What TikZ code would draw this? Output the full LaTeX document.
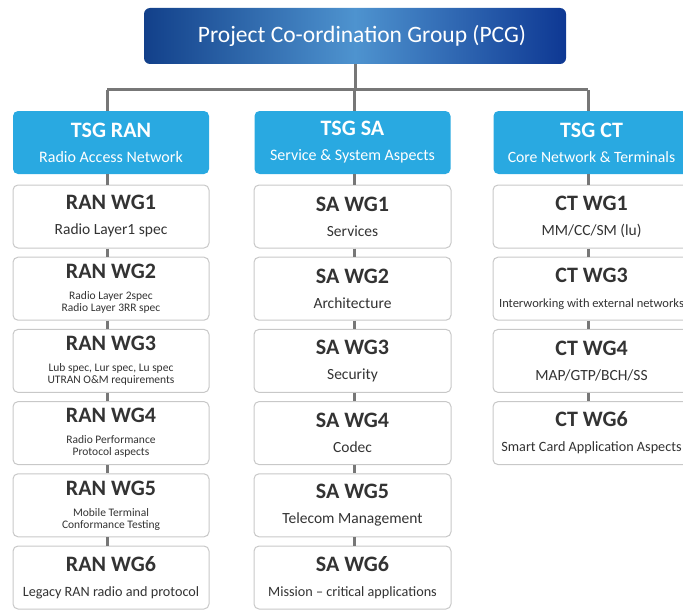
\documentclass[tikz,border=0pt]{standalone}
\usepackage{fontspec}
\setmainfont{Carlito}
\usetikzlibrary{calc}
\definecolor{pcgdark}{HTML}{12408A}
\definecolor{pcgmid}{HTML}{4E93CF}
\definecolor{pcgright}{HTML}{0E3893}
\definecolor{tsgblue}{HTML}{29A9E1}
\definecolor{boxline}{HTML}{C8C8C8}
\definecolor{txt}{HTML}{333333}
\definecolor{linegray}{HTML}{777777}
\newcommand\wgtitle[1]{{\fontsize{22}{24}\selectfont\bfseries #1}}
\newcommand\wgsub[1]{{\fontsize{15.5}{18}\selectfont #1}}
\newcommand\tsgsub[1]{{\fontsize{16}{18}\selectfont #1}}
\newcommand\wgsmall[1]{{\fontsize{11.5}{13}\selectfont #1}}
\newcommand\wglong[1]{{\fontsize{14.2}{16}\selectfont #1}}
\tikzset{
  wgbox/.style={draw=boxline, line width=1pt, rounded corners=5pt, fill=white,
    minimum width=196pt, minimum height=63pt, inner sep=0pt, align=center,
    text=txt, font=\fontsize{15}{25}\selectfont},
  tsgbox/.style={fill=tsgblue, rounded corners=5pt, minimum width=196pt,
    minimum height=63pt, inner sep=0pt, align=center, text=white,
    font=\fontsize{16}{25}\selectfont},
  pcgbox/.style={rounded corners=6pt, left color=pcgdark, right color=pcgright,
    middle color=pcgmid, minimum width=422pt, minimum height=56pt, inner sep=0pt,
    text=white, font=\fontsize{23.5}{25}\selectfont},
  conn/.style={draw=linegray, line width=3pt}
}
\begin{document}
\begin{tikzpicture}[x=1pt,y=-1pt]
\useasboundingbox (0,0) rectangle (683,610);
% coordinates for line columns
\coordinate (ranx) at (107,0);
\coordinate (sax) at (354,0);
\coordinate (ctx) at (588,0);
\coordinate (busy) at (0,90);

\node[pcgbox] (pcg) at (355,36) {\hspace{14pt}Project Co-ordination Group (PCG)};

\node[tsgbox] (tsgran) at (111,142.5) {\wgtitle{TSG RAN}\\\tsgsub{Radio Access Network}};
\node[tsgbox] (tsgsa) at (352.5,142.5) {\wgtitle{TSG SA}\\\tsgsub{Service \& System Aspects}};
\node[tsgbox] (tsgct) at (591.5,142.5) {\wgtitle{TSG CT}\\{\fontsize{15.7}{18}\selectfont Core Network \& Terminals}\hspace{8pt}};

% RAN column
\node[wgbox] (ran1) at (111,216.5) {\wgtitle{RAN WG1}\\\wgsub{Radio Layer1 spec}};
\node[wgbox] (ran2) at (111,288.7) {\wgtitle{RAN WG2}\\[-4pt]\wgsmall{Radio Layer 2spec}\\[-13pt]\wgsmall{Radio Layer 3RR spec}};
\node[wgbox] (ran3) at (111,360.9) {\wgtitle{RAN WG3}\\[-4pt]\wgsmall{Lub spec, Lur spec, Lu spec}\\[-13pt]\wgsmall{UTRAN O\&M requirements}};
\node[wgbox] (ran4) at (111,433.1) {\wgtitle{RAN WG4}\\[-4pt]\wgsmall{Radio Performance}\\[-13pt]\wgsmall{Protocol aspects}};
\node[wgbox] (ran5) at (111,505.3) {\wgtitle{RAN WG5}\\[-4pt]\wgsmall{Mobile Terminal}\\[-13pt]\wgsmall{Conformance Testing}};
\node[wgbox] (ran6) at (111,577.5) {\wgtitle{RAN WG6}\\\wglong{Legacy RAN radio and protocol}};

% SA column
\node[wgbox, minimum width=197pt] (sa1) at (352.5,216.5) {\wgtitle{SA WG1}\\\wgsub{Services}};
\node[wgbox, minimum width=197pt] (sa2) at (352.5,288.7) {\wgtitle{SA WG2}\\\wgsub{Architecture}};
\node[wgbox, minimum width=197pt] (sa3) at (352.5,360.9) {\wgtitle{SA WG3}\\\wgsub{Security}};
\node[wgbox, minimum width=197pt] (sa4) at (352.5,433.1) {\wgtitle{SA WG4}\\\wgsub{Codec}};
\node[wgbox, minimum width=197pt] (sa5) at (352.5,505.3) {\wgtitle{SA WG5}\\\wgsub{Telecom Management}};
\node[wgbox, minimum width=197pt] (sa6) at (352.5,577.5) {\wgtitle{SA WG6}\\\wglong{Mission -- critical applications}};

% CT column
\node[wgbox, minimum width=197pt] (ct1) at (591.5,216.5) {\wgtitle{CT WG1}\\\wgsub{MM/CC/SM (lu)}};
\node[wgbox, minimum width=197pt] (ct3) at (591.5,288.7) {\wgtitle{CT WG3}\\{\fontsize{12.5}{14}\selectfont Interworking with external networks}};
\node[wgbox, minimum width=197pt] (ct4) at (591.5,360.9) {\wgtitle{CT WG4}\\\wgsub{MAP/GTP/BCH/SS}};
\node[wgbox, minimum width=197pt] (ct6) at (591.5,433.1) {\wgtitle{CT WG6}\\\wglong{Smart Card Application Aspects}};

% connectors
\draw[conn] (pcg.south) -- (pcg.south |- busy);
\draw[conn] (busy -| ranx) -- (busy -| ctx);
\draw[conn] (busy -| sax) -- (tsgsa.north -| sax);
\draw[conn] (busy -| ranx) -- (tsgran.north -| ranx);
\draw[conn] (busy -| ctx) -- (tsgct.north -| ctx);

\foreach \a/\b in {tsgran/ran1, ran1/ran2, ran2/ran3, ran3/ran4, ran4/ran5, ran5/ran6}
  \draw[conn] (\a.south -| ranx) -- (\b.north -| ranx);
\foreach \a/\b in {tsgsa/sa1, sa1/sa2, sa2/sa3, sa3/sa4, sa4/sa5, sa5/sa6}
  \draw[conn] (\a.south -| sax) -- (\b.north -| sax);
\foreach \a/\b in {tsgct/ct1, ct1/ct3, ct3/ct4, ct4/ct6}
  \draw[conn] (\a.south -| ctx) -- (\b.north -| ctx);
\end{tikzpicture}
\end{document}
